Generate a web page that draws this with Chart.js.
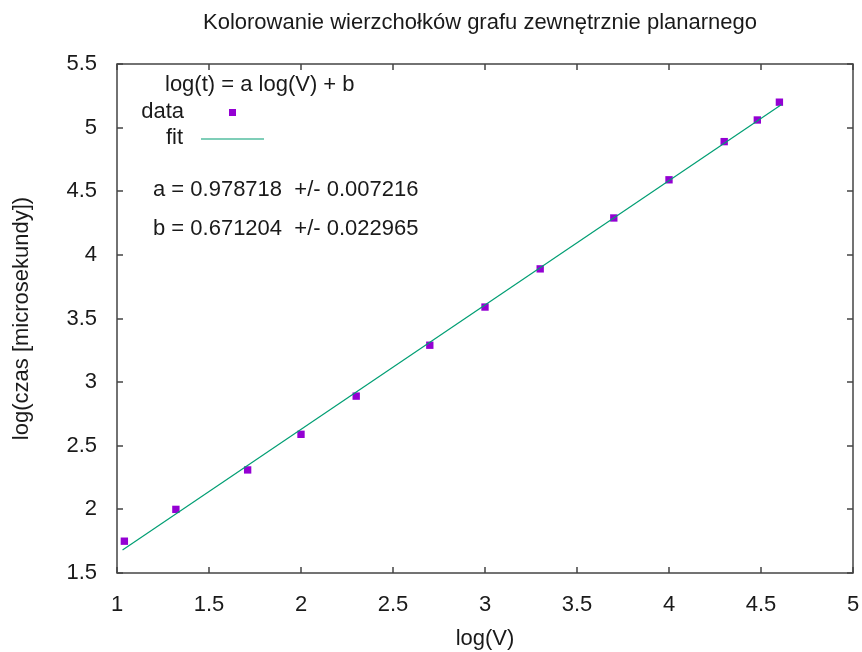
<!DOCTYPE html>
<html>
<head>
<meta charset="utf-8">
<script src="https://cdn.jsdelivr.net/npm/chart.js@4/dist/chart.umd.min.js"></script>
<style>
  html, body { margin: 0; padding: 0; background: #fff; }
  #wrap { width: 862px; height: 652px; }
</style>
</head>
<body>
<div id="wrap"><canvas id="wykres" width="862" height="652"></canvas></div>
<script>
// dane
const logV = [1.04, 1.32, 1.71, 2.0, 2.3, 2.7, 3.0, 3.3, 3.7, 4.0, 4.3, 4.48, 4.6];
const logT = [1.75, 2.0, 2.31, 2.59, 2.89, 3.29, 3.59, 3.89, 4.29, 4.59, 4.89, 5.06, 5.2];
// koncowki prostej dopasowania
const fitX = [1.03, 4.61];
const fitY = [1.68, 5.18];
const xTicks = [1, 1.5, 2, 2.5, 3, 3.5, 4, 4.5, 5];
const yTicks = [1.5, 2, 2.5, 3, 3.5, 4, 4.5, 5, 5.5];

const font = '"Liberation Sans", Arial, sans-serif';
const fs = 22;
const textColor = '#1a1a1a';
const frameColor = '#444';

const ramka = {
    id: 'ramka',
    afterDraw(chart) {
        const ctx = chart.ctx;
        const a = chart.chartArea;
        const sx = chart.scales.x, sy = chart.scales.y;
        ctx.save();
        ctx.strokeStyle = frameColor;
        ctx.lineWidth = 1.5;
        ctx.strokeRect(a.left, a.top, a.right - a.left, a.bottom - a.top);
        // tiki do srodka, na wszystkich bokach
        ctx.beginPath();
        xTicks.forEach(v => {
            const px = Math.round(sx.getPixelForValue(v));
            ctx.moveTo(px, a.bottom); ctx.lineTo(px, a.bottom - 6);
            ctx.moveTo(px, a.top); ctx.lineTo(px, a.top + 6);
        });
        yTicks.forEach(v => {
            const py = Math.round(sy.getPixelForValue(v));
            ctx.moveTo(a.left, py); ctx.lineTo(a.left + 6, py);
            ctx.moveTo(a.right, py); ctx.lineTo(a.right - 6, py);
        });
        ctx.stroke();

        // tytul i legenda
        ctx.fillStyle = textColor;
        ctx.font = fs + 'px ' + font;
        ctx.textBaseline = 'middle';
        ctx.textAlign = 'center';
        ctx.fillText('Kolorowanie wierzchołków grafu zewnętrznie planarnego', 480, 23);
        ctx.textAlign = 'left';
        ctx.fillText('log(t) = a log(V) + b', 165, 85);
        ctx.textAlign = 'right';
        ctx.fillText('data', 184, 112);
        ctx.fillText('fit', 183, 138);
        ctx.textAlign = 'left';
        ctx.fillText('a = 0.978718  +/- 0.007216', 153, 190);
        ctx.fillText('b = 0.671204  +/- 0.022965', 153, 229);
        ctx.fillStyle = '#9400D3';
        ctx.fillRect(229, 109, 7, 7);
        ctx.strokeStyle = '#009E73';
        ctx.lineWidth = 1.2;
        ctx.beginPath();
        ctx.moveTo(201, 139); ctx.lineTo(264, 139);
        ctx.stroke();
        ctx.restore();
    }
};

new Chart(document.getElementById('wykres'), {
    type: 'scatter',
    data: {
        datasets: [{
            label: 'fit',
            type: 'line',
            data: fitX.map((x, i) => ({ x: x, y: fitY[i] })),
            borderColor: '#009E73',
            borderWidth: 1.2,
            pointRadius: 0,
            fill: false,
            order: 0
        }, {
            label: 'data',
            data: logV.map((x, i) => ({ x: x, y: logT[i] })),
            backgroundColor: '#9400D3',
            borderColor: '#9400D3',
            pointStyle: 'rect',
            pointRadius: 5.2,
            borderWidth: 0,
            order: 1
        }]
    },
    options: {
        responsive: false,
        animation: false,
        layout: { padding: { top: 64, right: 9, left: 0, bottom: 0 } },
        plugins: {
            legend: { display: false },
            tooltip: { enabled: false }
        },
        scales: {
            x: {
                type: 'linear',
                min: 1, max: 5,
                afterBuildTicks: s => { s.ticks = xTicks.map(v => ({ value: v })); },
                afterFit: s => { s.height = 79; s.paddingLeft = 0; s.paddingRight = 0; },
                grid: { display: false, drawTicks: false },
                border: { display: false },
                ticks: { padding: 19, color: textColor, font: { family: font, size: fs }, callback: v => String(v) },
                title: { display: true, text: 'log(V)', color: textColor, padding: { top: 3, bottom: 0 }, font: { family: font, size: fs } }
            },
            y: {
                type: 'linear',
                min: 1.5, max: 5.5,
                afterBuildTicks: s => { s.ticks = yTicks.map(v => ({ value: v })); },
                afterFit: s => { s.width = 117; s.paddingTop = 0; s.paddingBottom = 0; },
                grid: { display: false, drawTicks: false },
                border: { display: false },
                ticks: { padding: 20, color: textColor, font: { family: font, size: fs }, callback: v => String(v) },
                title: { display: true, text: 'log(czas [microsekundy])', color: textColor, padding: { top: 9, bottom: 0 }, font: { family: font, size: fs } }
            }
        }
    },
    plugins: [ramka]
});
</script>
</body>
</html>
